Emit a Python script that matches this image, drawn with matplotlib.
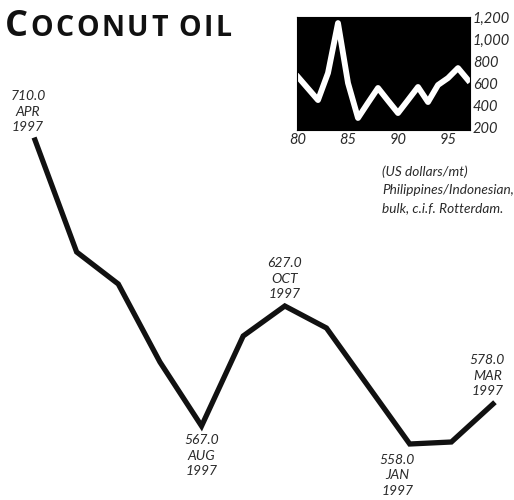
import matplotlib
matplotlib.use("Agg")
import matplotlib.pyplot as plt

# monthly prices, US$/mt (Apr .. Mar)
months = ["APR", "MAY", "JUN", "JUL", "AUG", "SEP", "OCT", "NOV", "DEC", "JAN", "FEB", "MAR"]
prices = [710.0, 654, 638, 599, 567.0, 612, 627.0, 616, 587, 558.0, 559, 578.0]
# annotated points
labels_idx = [0, 4, 6, 9, 11]
label_year = "1997"

# inset: annual prices 1980-97
years = [80, 81, 82, 83, 84, 85, 86, 87, 88, 89, 90, 91, 92, 93, 94, 95, 96, 97]
annual = [655, 550, 445, 691, 1145, 600, 282, 420, 555, 440, 327, 445, 564, 427, 582, 645, 736, 627]
inset_xticks = [80, 85, 90, 95]
inset_yticks = [200, 400, 600, 800, 1000, 1200]

W, H = 514, 500
fig = plt.figure(figsize=(W / 100, H / 100), dpi=100)
fig.patch.set_facecolor("white")

txt_kw = dict(family=["Lato", "DejaVu Sans"], style="italic", weight="normal", color="#2a2a2a")

# main chart
ax = fig.add_axes([35 / W, 1 - 444 / H, 458 / W, 304 / H])
x = list(range(len(prices)))
ax.plot(x, prices, color="#111111", lw=3.8, solid_joinstyle="miter", clip_on=False)
ax.set_xlim(0, len(prices) - 1)
ax.set_ylim(min(prices), max(prices))
ax.axis("off")

offsets = {0: (-5, 5, "bottom"), 4: (0, -6, "top"), 6: (0, 4, "bottom"),
           9: (-9, -7, "top"), 11: (-4, 5, "bottom")}
for i in labels_idx:
    dx, dy, va = offsets[i]
    ax.annotate(f"{prices[i]:.1f}\n{months[i]}\n{label_year}", (i, prices[i]),
                xytext=(dx, dy), textcoords="offset points", ha="center", va=va,
                fontsize=10, linespacing=1.35, annotation_clip=False, **txt_kw)

# inset
ins = fig.add_axes([297 / W, 1 - 130 / H, 173 / W, 113 / H])
ins.set_facecolor("black")
ins.plot(years, annual, color="white", lw=4.2)
ins.set_xlim(79.9, 97.2)
ins.set_ylim(173, 1200)
for s in ins.spines.values():
    s.set_color("black")
ins.yaxis.tick_right()
ins.set_xticks(inset_xticks)
ins.set_yticks(inset_yticks)
ins.set_xticklabels([str(v) for v in inset_xticks])
ins.set_yticklabels([f"{v:,}" for v in inset_yticks])
ins.tick_params(length=0, pad=2)
for t in ins.get_xticklabels() + ins.get_yticklabels():
    t.set_fontsize(10.5)
    t.set_fontfamily(["Lato", "DejaVu Sans"])
    t.set_fontstyle("italic")
    t.set_color("#2a2a2a")

fig.text(382 / W, 1 - 165 / H, "(US dollars/mt)\nPhilippines/Indonesian,\nbulk, c.i.f. Rotterdam.",
         ha="left", va="top", fontsize=9.8, linespacing=1.65, **txt_kw)

# title in small caps, letters placed one by one for wider tracking
title_kw = dict(family=["Open Sans", "DejaVu Sans"], weight="bold", color="#111111")
title = "COCONUT OIL"
fig.canvas.draw()
renderer = fig.canvas.get_renderer()
xpos = 5
for k, ch in enumerate(title):
    size = 26 if k == 0 else 20.5
    t = fig.text(xpos / W, 1 - 36 / H, ch, fontsize=size, va="baseline", **title_kw)
    if ch == " ":
        xpos += 8
    else:
        xpos = t.get_window_extent(renderer).x1 + 2.5

fig.savefig("out.png", dpi=100, facecolor="white")
